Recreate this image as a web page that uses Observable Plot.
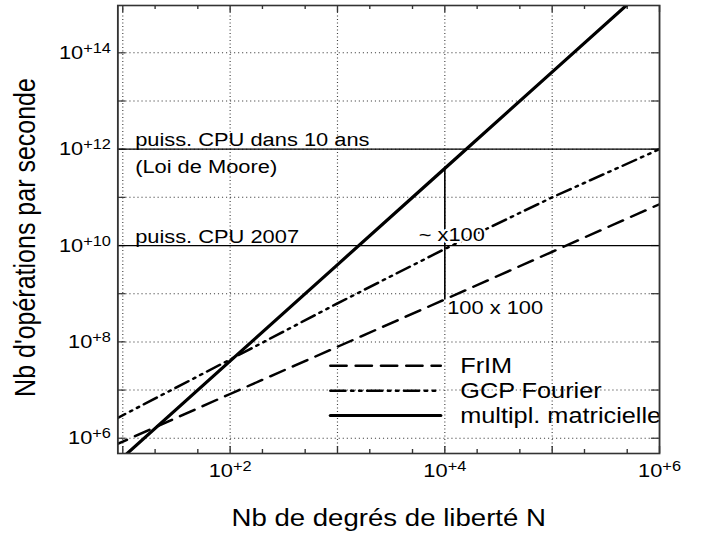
<!DOCTYPE html>
<html><head><meta charset="utf-8">
<script src="https://cdn.jsdelivr.net/npm/d3@7"></script>
<script src="https://cdn.jsdelivr.net/npm/@observablehq/plot@0.6"></script>
<style>
body{margin:0;background:#fff;}
#chart{width:707px;height:535px;overflow:hidden;}
#chart svg{transform:scaleX(1.15);transform-origin:0 0;display:block;font-family:"Liberation Sans",Arial,sans-serif;}
</style></head><body><div id="chart"></div>
<script>
// ---- data ----
const N = [8, 10, 100, 1e3, 1e4, 1e5, 1e6];
const frim = [6.9e5, 8.5e5, 8.3e6, 7.9e7, 7.6e8, 7.4e9, 7.2e10];
const gcpFourier = [2.3e6, 3.0e6, 4.3e7, 6.3e8, 8.5e9, 1.0e11, 1.0e12];
const multMat = [2.6e5, 4.0e5, 4.0e7, 4.0e9, 4.0e11, 4.0e13, 4.0e15];
const seriesNames = ["FrIM", "GCP Fourier", "multipl. matricielle"];
const cpuLevels = [1e10, 1e12];
const cpuLabels = ["puiss. CPU 2007", "puiss. CPU dans 10 ans"];
const mooreLabel = "(Loi de Moore)";
const xTickLabels = [1e2, 1e4, 1e6];
const yTickLabels = [1e6, 1e8, 1e10, 1e12, 1e14];
const xDecades = [10, 100, 1e3, 1e4, 1e5, 1e6];
const xMinor = [20, 50, 200, 500, 2e3, 5e3, 2e4, 5e4, 2e5, 5e5];
const yDecades = [1e6, 1e7, 1e8, 1e9, 1e10, 1e11, 1e12, 1e13, 1e14];
const xDomain = [9, 1e6];
const yDomain = [4.82e5, 9.6e14];
const annotN = 1e4;

// ---- layout / styles ----
const W = 615, H = 535, mL = 102, mR = 42, mT = 5, mB = 82;
const fw = W - mL - mR, fh = H - mT - mB;
const styles = [
  {name: seriesNames[0], values: frim, dash: "14,8", width: 2.4},
  {name: seriesNames[1], values: gcpFourier, dash: "13,5,2,5,2,5", width: 2.4},
  {name: seriesNames[2], values: multMat, dash: null, width: 3}
];
const legendX = [8.6e2, 9.15e3];
const legendY = [3.2e7, 9.7e6, 2.95e6];

const rows = styles.flatMap(s => N.map((n, i) => ({name: s.name, N: n, v: s.values[i]})));
const ai = N.indexOf(annotN);
const sup = d => "10^+" + Math.round(Math.log10(d));
const font = 19;

const marks = [
  // grid
  Plot.ruleX(xDecades.filter(d => d < xDomain[1]), {stroke: "#000", strokeWidth: 1, strokeDasharray: "1,2.5", strokeOpacity: 0.75}),
  Plot.ruleY(yDecades, {stroke: "#000", strokeWidth: 1, strokeDasharray: "1,2.5", strokeOpacity: 0.75}),
  // ticks (inward)
  Plot.ruleX(xDecades, {insetTop: fh - 7, stroke: "#333", strokeWidth: 1.2}),
  Plot.ruleX(xDecades, {insetBottom: fh - 7, stroke: "#333", strokeWidth: 1.2}),
  Plot.ruleX(xMinor, {insetTop: fh - 4, stroke: "#333", strokeWidth: 1.2}),
  Plot.ruleX(xMinor, {insetBottom: fh - 4, stroke: "#333", strokeWidth: 1.2}),
  Plot.ruleY(yDecades, {insetRight: fw - 7, stroke: "#333", strokeWidth: 1.2}),
  Plot.ruleY(yDecades, {insetLeft: fw - 7, stroke: "#333", strokeWidth: 1.2}),
  // CPU levels
  Plot.ruleY(cpuLevels, {stroke: "#000", strokeWidth: 1.3}),
  Plot.text(cpuLevels, {x: () => xDomain[0], y: d => d, text: (d, i) => cpuLabels[i], textAnchor: "start", dx: 15, dy: -9, fontSize: font}),
  Plot.text([cpuLevels[1]], {x: () => xDomain[0], y: d => d, text: () => mooreLabel, textAnchor: "start", dx: 15, dy: 18, fontSize: font}),
  // series
  ...styles.map(s => Plot.line(rows.filter(r => r.name === s.name), {x: "N", y: "v", stroke: "#000", strokeWidth: s.width, strokeDasharray: s.dash, clip: true})),
  // annotation
  Plot.ruleX([annotN], {x: d => d, y1: multMat[ai], y2: frim[ai], stroke: "#000", strokeWidth: 1.4}),
  Plot.text([annotN], {x: d => d, y: cpuLevels[0], text: () => "~ x100", dx: 6, dy: -11, fontSize: font, fill: "#000", stroke: "#fff", strokeWidth: 4, paintOrder: "stroke"}),
  Plot.text([annotN], {x: d => d, y: frim[ai], text: () => "100 x 100", textAnchor: "start", dx: 2, dy: 8, fontSize: font}),
  // legend
  ...styles.map((s, i) => Plot.line([{x: legendX[0], y: legendY[i]}, {x: legendX[1], y: legendY[i]}], {x: "x", y: "y", stroke: "#000", strokeWidth: s.width, strokeDasharray: s.dash})),
  Plot.text(styles, {x: () => legendX[1], y: (d, i) => legendY[i], text: "name", textAnchor: "start", dx: 17, fontSize: 22, clip: true}),
  // frame
  Plot.frame({stroke: "#333", strokeWidth: 1.6}),
  // tick labels
  Plot.text(xTickLabels, {x: d => d, y: () => yDomain[0], text: sup, dy: 17, fontSize: 19}),
  Plot.text(yTickLabels, {x: () => xDomain[0], y: d => d, text: sup, textAnchor: "end", dx: -6, fontSize: 19}),
  // axis titles
  Plot.text(["Nb de degrés de liberté N"], {frameAnchor: "bottom", dy: 72, fontSize: 24}),
  Plot.text(["Nb d'opérations par seconde"], {frameAnchor: "left", textAnchor: "middle", dx: -80, dy: 8, rotate: -90, fontSize: 25})
];

const chart = Plot.plot({
  width: W, height: H,
  marginLeft: mL, marginRight: mR, marginTop: mT, marginBottom: mB,
  x: {type: "log", domain: xDomain, axis: null},
  y: {type: "log", domain: yDomain, axis: null},
  style: {fontFamily: "'Liberation Sans', Arial, sans-serif", background: "#fff", color: "#000", overflow: "visible"},
  marks
});

// render exponents as raised text
chart.querySelectorAll("text").forEach(t => {
  const s = t.textContent;
  if (s.includes("^")) {
    const [b, e] = s.split("^");
    t.textContent = b;
    const ts = document.createElementNS("http://www.w3.org/2000/svg", "tspan");
    ts.setAttribute("dy", "-0.42em");
    ts.setAttribute("font-size", "0.75em");
    ts.textContent = e;
    t.appendChild(ts);
  }
});
document.getElementById("chart").appendChild(chart);
</script></body></html>
